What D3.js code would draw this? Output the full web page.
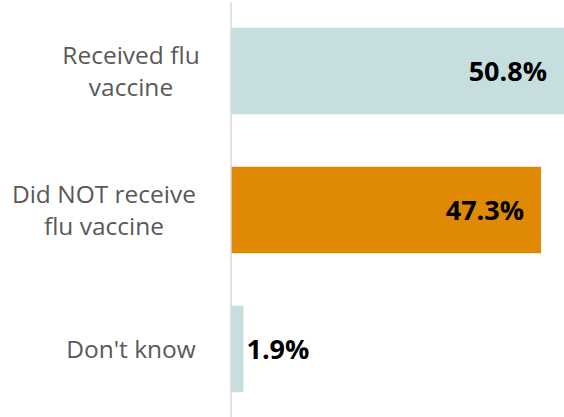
<!DOCTYPE html>
<html>
<head>
<meta charset="utf-8">
<script src="https://cdn.jsdelivr.net/npm/d3@7"></script>
<style>
  html, body { margin: 0; padding: 0; background: #fff; }
  svg { display: block; }
</style>
</head>
<body>
<svg id="chart" width="564" height="417"></svg>
<script>
// Data
const categories = [["Received flu", "vaccine"], ["Did NOT receive", "flu vaccine"], ["Don't know"]];
const values = [50.8, 47.3, 1.9];
const valueLabels = ["50.8%", "47.3%", "1.9%"];
const barColors = ["#c7dedf", "#e08905", "#c7dedf"];

// Dimensions
const width = 564;
const height = 417;
const margin = { top: 1.5, right: 0, bottom: -1.5, left: 231 };

const svg = d3.select("#chart");

// Scales
const xScale = d3
  .scaleLinear()
  .domain([0, 50.8])
  .range([margin.left, width - margin.right]);

const yScale = d3
  .scaleBand()
  .domain(d3.range(values.length))
  .range([margin.top, height - margin.bottom])
  .paddingInner(0.378)
  .paddingOuter(0.189);

// Bars
svg
  .selectAll(".bar")
  .data(values)
  .enter()
  .append("rect")
  .attr("class", "bar")
  .attr("x", xScale(0))
  .attr("y", (d, i) => yScale(i))
  .attr("width", (d) => xScale(d) - xScale(0))
  .attr("height", yScale.bandwidth())
  .attr("fill", (d, i) => barColors[i]);

// Vertical axis line
svg
  .append("g")
  .attr("transform", `translate(${margin.left - 0.5},0)`)
  .call(d3.axisLeft(yScale).tickSize(0).tickFormat(""))
  .call((g) => g.select(".domain").attr("stroke", "#d9d9d9").attr("stroke-width", 1.5));

// Category labels (wrapped, lines centred; wide blocks pulled back from the axis)
const lineHeight = 32;
const labelCenter = 131;
const labelRight = 196;
categories.forEach((lines, i) => {
  const cy = yScale(i) + yScale.bandwidth() / 2;
  const t = svg
    .append("text")
    .attr("text-anchor", "middle")
    .attr("font-family", "'Open Sans', sans-serif")
    .attr("font-size", 24.5)
    .attr("fill", "#595959");
  lines.forEach((line, j) => {
    t.append("tspan")
      .attr("x", labelCenter)
      .attr("y", cy + (j - (lines.length - 1) / 2) * lineHeight + 8.5)
      .text(line);
  });
  const w = t.node().getBBox().width;
  const cx = labelCenter + w / 2 > labelRight + 10 ? labelRight - w / 2 : labelCenter;
  t.selectAll("tspan").attr("x", cx);
});

// Value labels: inside end when they fit, otherwise just past the bar
svg
  .selectAll(".value")
  .data(values)
  .enter()
  .append("text")
  .attr("class", "value")
  .attr("font-family", "'Open Sans', sans-serif")
  .attr("font-weight", "bold")
  .attr("font-size", 27)
  .attr("fill", "#000")
  .attr("y", (d, i) => yScale(i) + yScale.bandwidth() / 2 + 9.5)
  .text((d, i) => valueLabels[i])
  .each(function (d) {
    const w = this.getComputedTextLength();
    const barW = xScale(d) - xScale(0);
    const sel = d3.select(this);
    if (barW > w + 30) {
      sel.attr("x", xScale(d) - 17).attr("text-anchor", "end");
    } else {
      sel.attr("x", xScale(d) + 3).attr("text-anchor", "start");
    }
  });
</script>
</body>
</html>
